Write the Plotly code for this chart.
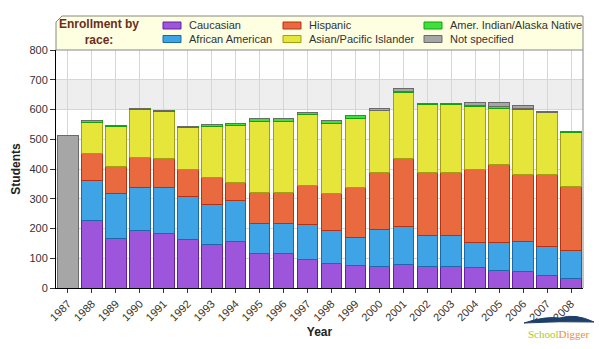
import plotly.graph_objects as go

years = [str(y) for y in range(1987, 2009)]
caucasian = [0, 226, 166, 193, 184, 163, 146, 156, 117, 117, 97, 84, 77, 72, 79, 72, 72, 69, 60, 57, 42, 32]
african_american = [0, 134, 151, 145, 155, 146, 134, 139, 100, 100, 117, 109, 94, 125, 127, 103, 103, 84, 93, 99, 97, 93]
hispanic = [0, 91, 90, 102, 95, 88, 93, 58, 103, 103, 129, 125, 167, 190, 228, 212, 212, 245, 262, 227, 244, 216]
asian_pacific = [0, 106, 135, 160, 160, 141, 171, 193, 241, 241, 239, 236, 231, 209, 223, 230, 230, 212, 190, 216, 208, 182]
amer_indian = [0, 5, 3, 5, 4, 4, 4, 6, 8, 8, 8, 9, 10, 1, 4, 2, 2, 3, 5, 4, 0, 3]
not_specified = [513, 0, 0, 0, 0, 0, 0, 0, 0, 0, 0, 0, 0, 8, 10, 0, 0, 11, 14, 11, 3, 0]
y_ticks = [0, 100, 200, 300, 400, 500, 600, 700, 800]

series = [
    ("Caucasian", caucasian, "#9d55db", "#6420a0"),
    ("African American", african_american, "#3fa4e6", "#1a6aa8"),
    ("Hispanic", hispanic, "#ea6a40", "#b83010"),
    ("Asian/Pacific Islander", asian_pacific, "#e6e63a", "#a0a010"),
    ("Amer. Indian/Alaska Native", amer_indian, "#3ee03e", "#10a010"),
    ("Not specified", not_specified, "#a6a6a6", "#6a6a6a"),
]

W, H = 599, 349
ML, MR, MT, MB = 56, 16, 50, 61
PW, PH = W - ML - MR, H - MT - MB


def px(X):
    return (X - ML) / PW


def py(Y):
    return (H - MB - Y) / PH


fig = go.Figure()
for name, vals, fill, line in series:
    fig.add_trace(go.Bar(
        x=years, y=vals, name=name,
        marker=dict(color=fill, line=dict(color=line, width=1)),
        showlegend=False,
    ))

shapes = []
annotations = []
# background band
shapes.append(dict(type="rect", xref="paper", yref="y", x0=0, x1=1, y0=600, y1=700,
                   fillcolor="#eeeeee", line=dict(width=0), layer="below"))
# right frame
shapes.append(dict(type="line", xref="paper", yref="paper", x0=1, x1=1, y0=0, y1=1,
                   line=dict(color="#888888", width=1)))
# legend box with chamfered corner
path = "M {a},{b} L {c},{d} L {e},{d} L {e},{f} L {a},{f} Z".format(
    a=px(56), b=py(22), c=px(62), d=py(16), e=px(583), f=py(50))
shapes.append(dict(type="path", xref="paper", yref="paper", path=path,
                   fillcolor="#fefee0", line=dict(color="#888888", width=1)))

annotations.append(dict(xref="paper", yref="paper", x=px(99), y=py(32), xanchor="center", yanchor="middle",
                        text="<b>Enrollment by<br>race:</b>", showarrow=False,
                        font=dict(family="Liberation Sans, Arial", size=12, color="#6b2d20")))

col_x = [163, 283, 424]
row_y = [25.5, 39]
order = [(0, 0), (0, 1), (1, 0), (1, 1), (2, 0), (2, 1)]
for (name, vals, fill, line), (c, r) in zip(series, order):
    X0 = col_x[c]
    Yc = row_y[r]
    shapes.append(dict(type="rect", xref="paper", yref="paper",
                       x0=px(X0), x1=px(X0 + 18), y0=py(Yc + 3.5), y1=py(Yc - 3.5),
                       fillcolor=fill, line=dict(color=line, width=1)))
    annotations.append(dict(xref="paper", yref="paper", x=px(X0 + 24), y=py(Yc), xanchor="left",
                            yanchor="middle", text=name, showarrow=False,
                            font=dict(family="Liberation Sans, Arial", size=11, color="#333333")))

# logo: thin wave + text
wave = "M {a},{b} Q {c},{d} {e},{f} Q {g},{h} {i},{j} Q {k},{l} {a},{b} Z".format(
    a=px(524), b=py(323), c=px(545), d=py(316), e=px(560), f=py(318),
    g=px(575), h=py(313), i=px(594), j=py(322), k=px(560), l=py(321))
shapes.append(dict(type="path", xref="paper", yref="paper", path=wave,
                   fillcolor="#1f3f6a", line=dict(color="#1f3f6a", width=1)))
annotations.append(dict(xref="paper", yref="paper", x=px(558), y=py(334), xanchor="center", yanchor="middle",
                        text="<span style='color:#a6c832'>School</span><span style='color:#f0902a'>Digger</span>",
                        showarrow=False, font=dict(family="Liberation Serif", size=11)))

fig.update_layout(
    width=W, height=H,
    margin=dict(l=ML, r=MR, t=MT, b=MB),
    barmode="stack", bargap=0.14,
    paper_bgcolor="white", plot_bgcolor="white",
    font=dict(family="Liberation Sans, Arial", size=11, color="#333333"),
    shapes=shapes, annotations=annotations,
    xaxis=dict(
        type="category", tickangle=-45, showgrid=True, gridcolor="#d6d6d6",
        showline=True, linecolor="#000000", linewidth=1,
        ticks="outside", ticklen=4, tickcolor="#333333",
        tickfont=dict(size=11, color="#333333"),
        title=dict(text="<b>Year</b>", font=dict(size=12, color="#222222"), standoff=5),
        automargin=False,
    ),
    yaxis=dict(
        range=[0, 800], tickvals=y_ticks, showgrid=True, gridcolor="#d6d6d6",
        showline=True, linecolor="#000000", linewidth=1,
        ticks="outside", ticklen=5, tickcolor="#333333",
        tickfont=dict(size=11, color="#333333"), zeroline=False,
        title=dict(text="<b>Students</b>", font=dict(size=12, color="#222222"), standoff=6),
        automargin=False,
    ),
)

fig.write_html("out.html")
